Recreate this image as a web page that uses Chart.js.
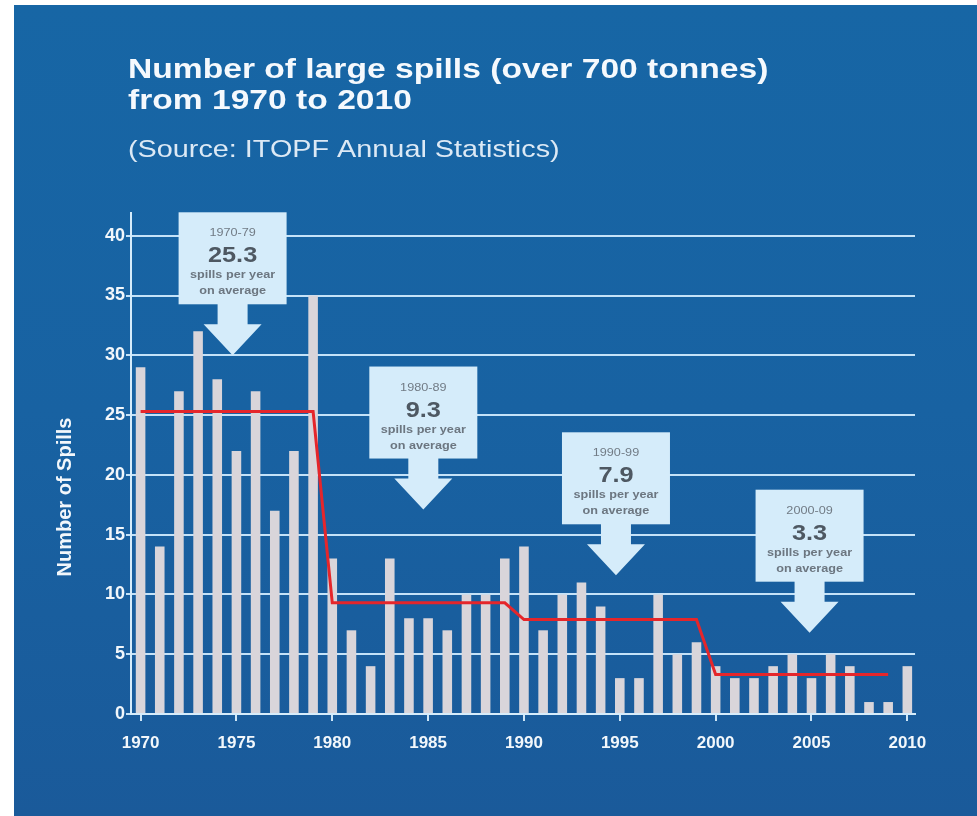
<!DOCTYPE html>
<html>
<head>
<meta charset="utf-8">
<script src="https://cdn.jsdelivr.net/npm/chart.js@4.4.1/dist/chart.umd.min.js"></script>
<style>
  html, body { margin: 0; padding: 0; background: #ffffff; }
  #wrap { width: 977px; height: 816px; }
</style>
</head>
<body>
<div id="wrap"><canvas id="myChart" width="977" height="816"></canvas></div>
<script>
// yearly number of large spills
const years = [
  1970, 1971, 1972, 1973, 1974, 1975, 1976, 1977, 1978, 1979,
  1980, 1981, 1982, 1983, 1984, 1985, 1986, 1987, 1988, 1989,
  1990, 1991, 1992, 1993, 1994, 1995, 1996, 1997, 1998, 1999,
  2000, 2001, 2002, 2003, 2004, 2005, 2006, 2007, 2008, 2009,
  2010
];
const spills = [
  29, 14, 27, 32, 28, 22, 27, 17, 22, 35,
  13, 7, 4, 13, 8, 8, 7, 10, 10, 13,
  14, 7, 10, 11, 9, 3, 3, 10, 5, 6,
  4, 3, 3, 4, 5, 3, 5, 4, 1, 1,
  4
];

// decade averages (red line + callouts)
const decadeStarts = [1970, 1980, 1990, 2000];
const decadeLabels = ['1970-79', '1980-89', '1990-99', '2000-09'];
const decadeAverages = [25.3, 9.3, 7.9, 3.3];

const yTicks = [0, 5, 10, 15, 20, 25, 30, 35, 40];
const xTicks = [1970, 1975, 1980, 1985, 1990, 1995, 2000, 2005, 2010];

const FONT = '"Liberation Sans", Arial, Helvetica, sans-serif';

const barData = years.map((y, i) => ({ x: y, y: spills[i] }));
const avgData = [];
decadeStarts.forEach((d, i) => {
  avgData.push({ x: d, y: decadeAverages[i] });
  avgData.push({ x: d + 9, y: decadeAverages[i] });
});

// where the arrow tips of the callouts point, in data units
const calloutTips = [
  { x: 1974.8, y: 30.0 },
  { x: 1984.75, y: 17.1 },
  { x: 1994.8, y: 11.6 },
  { x: 2004.9, y: 6.8 }
];

function stretchText(ctx, text, x, y, sx) {
  ctx.save();
  ctx.translate(x, y);
  ctx.scale(sx, 1);
  ctx.fillText(text, 0, 0);
  ctx.restore();
}

const backdrop = {
  id: 'backdrop',
  beforeDraw(chart) {
    const ctx = chart.ctx;
    ctx.save();
    ctx.fillStyle = '#ffffff';
    ctx.fillRect(0, 0, chart.width, chart.height);
    const g = ctx.createLinearGradient(0, 5, 0, chart.height);
    g.addColorStop(0, '#1766a5');
    g.addColorStop(0.5, '#1862a2');
    g.addColorStop(1, '#1a5a9a');
    ctx.fillStyle = g;
    ctx.fillRect(14, 5, chart.width - 14, chart.height - 5);

    // headline
    ctx.fillStyle = '#f5f9fd';
    ctx.textAlign = 'left';
    ctx.textBaseline = 'alphabetic';
    ctx.font = 'bold 28px ' + FONT;
    stretchText(ctx, 'Number of large spills (over 700 tonnes)', 128, 78, 1.2);
    stretchText(ctx, 'from 1970 to 2010', 128, 109, 1.2);
    ctx.fillStyle = '#dce9f5';
    ctx.font = '24px ' + FONT;
    stretchText(ctx, '(Source: ITOPF Annual Statistics)', 128, 157, 1.2);

    // y axis title, sits a bit below the middle of the axis
    ctx.save();
    ctx.translate(65, 497);
    ctx.rotate(-Math.PI / 2);
    ctx.textAlign = 'center';
    ctx.textBaseline = 'middle';
    ctx.fillStyle = '#f2f7fb';
    ctx.font = 'bold 20px ' + FONT;
    ctx.fillText('Number of Spills', 0, 0);
    ctx.restore();
    ctx.restore();
  }
};

const callouts = {
  id: 'callouts',
  afterDatasetsDraw(chart) {
    const ctx = chart.ctx;
    const xs = chart.scales.x, ys = chart.scales.y;
    ctx.save();
    calloutTips.forEach((t, i) => {
      const tx = xs.getPixelForValue(t.x);
      const ty = ys.getPixelForValue(t.y);
      const headH = 31, headW = 58, stemW = 30, stemH = 20;
      const boxW = 108, boxH = 92;
      const boxBottom = ty - headH - stemH;
      const top = boxBottom - boxH;
      ctx.fillStyle = '#d5ecfa';
      ctx.fillRect(tx - boxW / 2, top, boxW, boxH);
      ctx.beginPath();
      ctx.moveTo(tx - stemW / 2, boxBottom - 1);
      ctx.lineTo(tx + stemW / 2, boxBottom - 1);
      ctx.lineTo(tx + stemW / 2, ty - headH);
      ctx.lineTo(tx + headW / 2, ty - headH);
      ctx.lineTo(tx, ty);
      ctx.lineTo(tx - headW / 2, ty - headH);
      ctx.lineTo(tx - stemW / 2, ty - headH);
      ctx.closePath();
      ctx.fill();

      ctx.textAlign = 'center';
      ctx.textBaseline = 'alphabetic';
      ctx.fillStyle = '#717b85';
      ctx.font = '11px ' + FONT;
      stretchText(ctx, decadeLabels[i], tx, top + 24, 1.15);
      ctx.fillStyle = '#4e5862';
      ctx.font = 'bold 22px ' + FONT;
      stretchText(ctx, decadeAverages[i].toFixed(1), tx, top + 50, 1.15);
      ctx.fillStyle = '#6c7680';
      ctx.font = 'bold 11px ' + FONT;
      stretchText(ctx, 'spills per year', tx, top + 66, 1.15);
      stretchText(ctx, 'on average', tx, top + 82, 1.15);
    });
    ctx.restore();
  }
};

const config = {
  type: 'bar',
  data: {
    datasets: [
      {
        type: 'line',
        label: 'Decade average',
        data: avgData,
        borderColor: '#e5262b',
        borderWidth: 3,
        pointRadius: 0,
        tension: 0,
        fill: false,
        order: 0
      },
      {
        type: 'bar',
        label: 'Large spills',
        data: barData,
        backgroundColor: '#d9d5da',
        borderWidth: 0,
        barPercentage: 0.5,
        categoryPercentage: 1,
        order: 1
      }
    ]
  },
  options: {
    responsive: false,
    animation: false,
    layout: { padding: { left: 40, top: 213, right: 62, bottom: 0 } },
    plugins: {
      legend: { display: false },
      tooltip: { enabled: false }
    },
    scales: {
      x: {
        type: 'linear',
        min: 1969.5,
        max: 2010.4,
        offset: false,
        afterBuildTicks(scale) {
          scale.ticks = xTicks.map(v => ({ value: v }));
        },
        afterFit(scale) {
          scale.height = 102;
          scale.paddingLeft = 0;
          scale.paddingRight = 0;
        },
        grid: {
          offset: false,
          drawOnChartArea: false,
          drawTicks: true,
          tickLength: 7,
          color: '#cfe7f8',
          lineWidth: 2
        },
        border: { color: '#d6ecfb', width: 2 },
        ticks: {
          color: '#f2f7fb',
          padding: 12,
          maxRotation: 0,
          font: { family: FONT, size: 17, weight: 'bold' },
          callback: v => String(v)
        }
      },
      y: {
        min: 0,
        max: 41.9,
        afterBuildTicks(scale) {
          scale.ticks = yTicks.map(v => ({ value: v }));
        },
        afterFit(scale) {
          scale.width = 91;
          scale.paddingTop = 0;
          scale.paddingBottom = 0;
        },
        grid: {
          color: '#c4e2f8',
          lineWidth: 2,
          tickLength: 5
        },
        border: { color: '#d6ecfb', width: 2 },
        ticks: {
          color: '#f2f7fb',
          padding: 1,
          font: { family: FONT, size: 18, weight: 'bold' }
        }
      }
    }
  },
  plugins: [backdrop, callouts]
};

const myChart = new Chart(document.getElementById('myChart'), config);
</script>
</body>
</html>
